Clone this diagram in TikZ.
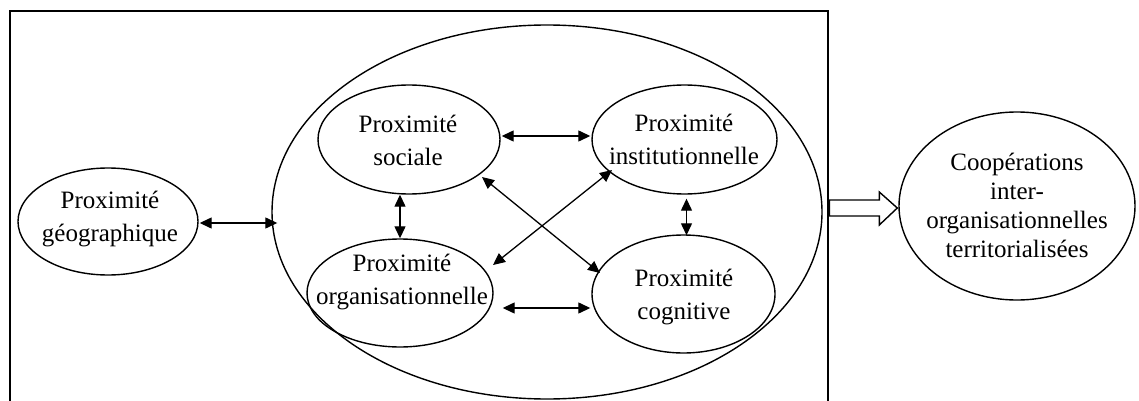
\documentclass[tikz,border=0pt]{standalone}
\usepackage{fontspec}
\setmainfont{Liberation Serif}
\usetikzlibrary{shapes.geometric,arrows.meta,calc}
\begin{document}
\begin{tikzpicture}[x=0.5pt,y=-0.5pt,
  ell/.style={draw, ellipse, inner sep=0pt, line width=0.7pt},
  lbl/.style={align=center, font=\fontsize{12.5}{16.5}\selectfont, inner sep=0pt},
  dbl/.style={{Triangle[length=6pt,width=5.5pt]}-{Triangle[length=6pt,width=5.5pt]}, line width=0.65pt},
]
\useasboundingbox (0,0) rectangle (1139,401);
% frame
\draw[line width=0.7pt] (10,401) -- (10,11) -- (828,11) -- (828,401);
% ellipses
\node[ell, minimum width=275pt, minimum height=187pt] (big) at (547,212) {};
\node[ell, minimum width=90pt, minimum height=53.5pt] (geo) at (108,221.5) {};
\node[ell, minimum width=91pt, minimum height=54.5pt] (soc) at (409,139.5) {};
\node[ell, minimum width=92.5pt, minimum height=54.5pt] (inst) at (684.5,139.5) {};
\node[ell, minimum width=93pt, minimum height=54pt] (org) at (400,293) {};
\node[ell, minimum width=91.5pt, minimum height=59pt] (cog) at (683.5,294) {};
\node[ell, minimum width=118pt, minimum height=94pt] (coop) at (1017,206) {};
% texts
\node[lbl] (tgeo) at (110,219) {Proximité\\géographique};
\node[lbl] (tsoc) at (408,140) {Proximité\\sociale};
\node[lbl] (tinst) at (684,139) {Proximité\\institutionnelle};
\node[lbl] (torg) at (402,282) {Proximité\\organisationnelle};
\node[lbl] (tcog) at (684,297) {Proximité\\cognitive};
\node[lbl, font=\fontsize{12.5}{14.5}\selectfont] (tcoop) at (1017,205) {Coopérations\\inter-\\organisationnelles\\territorialisées};
% connectors
\draw[dbl] ($(geo.east)+(1,1.5)$) -- ($(big.west |- geo.east)+(6,1.5)$);
\draw[dbl] ($(soc.east)+(1,-3.5)$) -- ($(inst.west)+(-1,-3.5)$);
\draw[dbl] ($(org.east)+(9,15)$) -- ($(cog.west)+(-1,14)$);
\draw[dbl] (org.north |- soc.south) -- (org.north);
\draw[dbl] ($(inst.south)+(2,4)$) -- ($(cog.north)+(3,1)$);
\draw[dbl] ($(soc.center)+(73,37.5)$) -- ($(cog.center)+(-83.5,-21)$);
\draw[dbl] ($(inst.center)+(-72.5,30.5)$) -- ($(org.center)+(93,-28)$);
% big hollow arrow
\coordinate (tip) at ($(coop.west)+(-1,2)$);
\draw[line width=0.7pt, fill=white] ($(tip)+(-68,-8)$) -- ($(tip)+(-18,-8)$) -- ($(tip)+(-18,-16)$) -- (tip) -- ($(tip)+(-18,17)$) -- ($(tip)+(-18,8)$) -- ($(tip)+(-68,8)$) -- cycle;
\end{tikzpicture}
\end{document}
